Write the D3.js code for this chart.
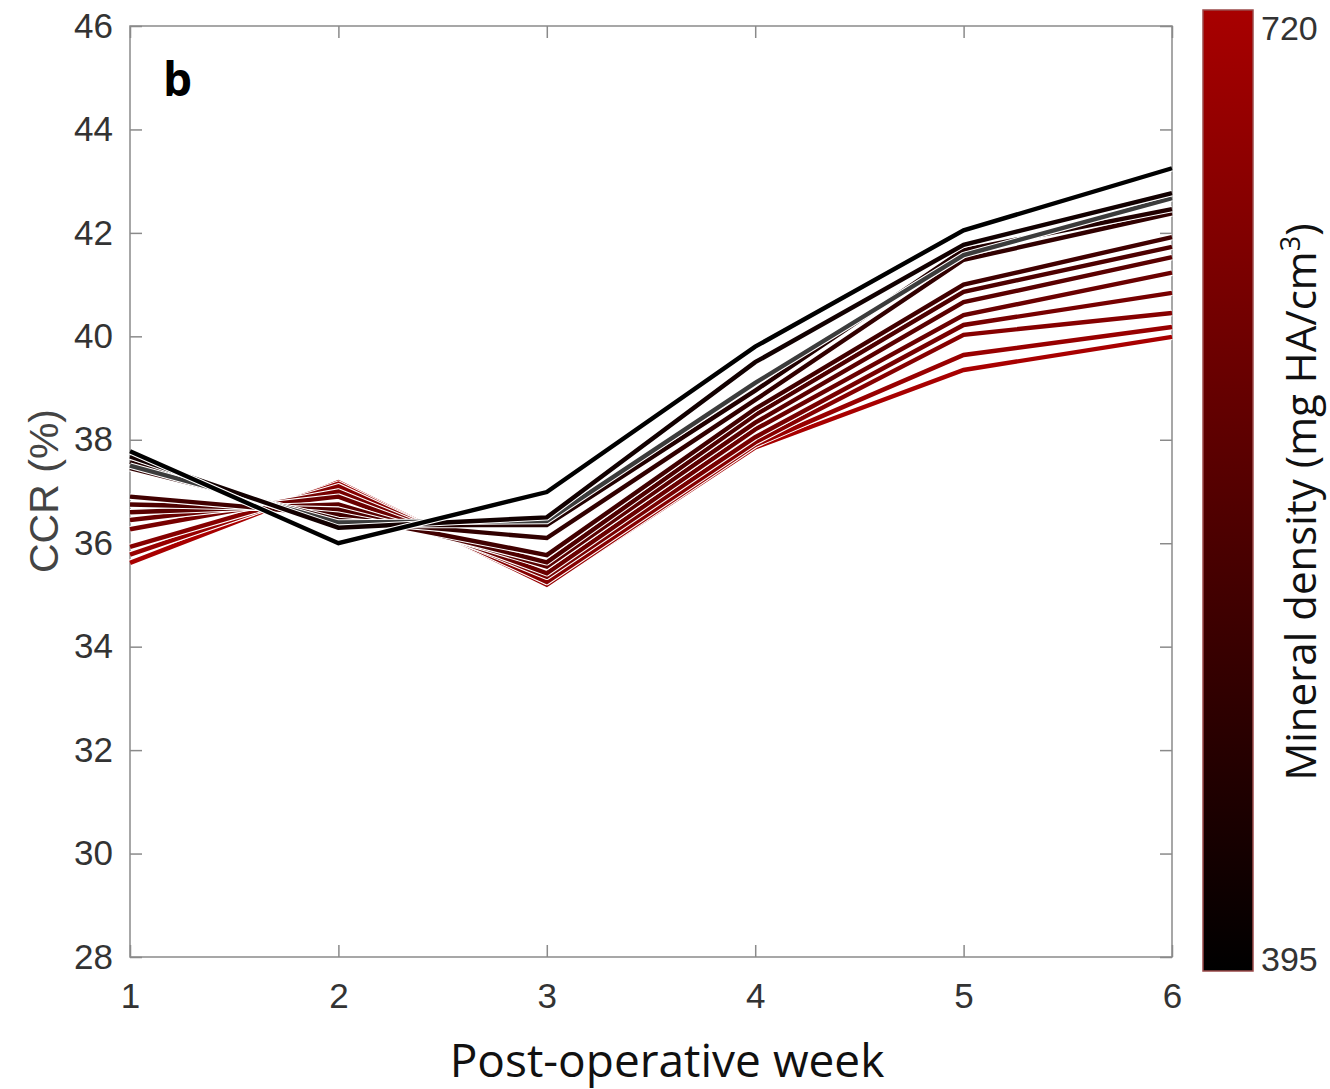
<!DOCTYPE html>
<html>
<head>
<meta charset="utf-8">
<script src="https://cdn.jsdelivr.net/npm/d3@7"></script>
<style>
  body { margin: 0; background: #fff; }
  svg { display: block; }
</style>
</head>
<body>
<svg id="chart" width="1330" height="1089"></svg>
<script>
// CCR per post-operative week, one line per mineral density bin

const weeks = [1, 2, 3, 4, 5, 6];
const yTicks = [28, 30, 32, 34, 36, 38, 40, 42, 44, 46];

// mineral density (mg HA/cm3) for each line, dark -> red
const densities = [395, 430, 460, 490, 520, 545, 570, 600, 625, 655, 690, 720];

const ccr = [
  [37.78, 36.0, 36.99, 39.8, 42.05, 43.25],
  [37.68, 36.3, 36.5, 39.5, 41.77, 42.77],
  [37.57, 36.35, 36.35, 38.95, 41.67, 42.46],
  [37.45, 36.45, 36.1, 38.77, 41.48, 42.38],
  [36.9, 36.55, 35.77, 38.6, 41.0, 41.92],
  [36.75, 36.65, 35.63, 38.48, 40.86, 41.73],
  [36.6, 36.75, 35.55, 38.33, 40.66, 41.53],
  [36.45, 36.9, 35.42, 38.2, 40.41, 41.23],
  [36.27, 37.0, 35.35, 38.05, 40.22, 40.84],
  [35.93, 37.1, 35.25, 37.95, 40.03, 40.45],
  [35.78, 37.15, 35.2, 37.9, 39.64, 40.18],
  [35.62, 37.18, 35.2, 37.85, 39.35, 39.99]
];

// grey line drawn among the dark ones
const greyLine = [37.5, 36.4, 36.43, 39.1, 41.57, 42.67];

const densityRange = [395, 720];

const svg = d3.select("#chart");
const mLeft = 130, mRight = 1172, mTop = 26, mBottom = 957;

const x = d3.scaleLinear().domain([1, 6]).range([mLeft, mRight]);
const y = d3.scaleLinear().domain([28, 46]).range([mBottom, mTop]);
const color = d3.scaleLinear().domain(densityRange).range(["#000000", "#a80000"]);

const line = d3.line().x((d, i) => x(weeks[i])).y(d => y(d));

const axisColor = "#8a8a8a";
const font = "'Liberation Sans', Arial, sans-serif";

// frame
svg.append("rect")
  .attr("x", mLeft).attr("y", mTop)
  .attr("width", mRight - mLeft).attr("height", mBottom - mTop)
  .attr("fill", "none").attr("stroke", axisColor).attr("stroke-width", 1.5);

// axes with inward ticks
const yAxisL = d3.axisLeft(y).tickValues(yTicks).tickSizeInner(-12).tickSizeOuter(0).tickPadding(17);
const yAxisR = d3.axisRight(y).tickValues(yTicks).tickSizeInner(-12).tickSizeOuter(0).tickFormat("");
const xAxisB = d3.axisBottom(x).tickValues(weeks).tickSizeInner(-12).tickSizeOuter(0).tickPadding(26).tickFormat(d3.format("d"));
const xAxisT = d3.axisTop(x).tickValues(weeks).tickSizeInner(-12).tickSizeOuter(0).tickFormat("");

function styleAxis(g) {
  g.select(".domain").remove();
  g.selectAll("line").attr("stroke", axisColor).attr("stroke-width", 1.5);
  g.selectAll("text").attr("fill", "#333").style("font-family", font).style("font-size", "35px");
}

svg.append("g").attr("transform", `translate(${mLeft},0)`).call(yAxisL).call(styleAxis);
svg.append("g").attr("transform", `translate(${mRight},0)`).call(yAxisR).call(styleAxis);
svg.append("g").attr("transform", `translate(0,${mBottom})`).call(xAxisB).call(styleAxis);
svg.append("g").attr("transform", `translate(0,${mTop})`).call(xAxisT).call(styleAxis);

// lines: white halo underneath, coloured line on top
const series = ccr.map((v, i) => ({ values: v, color: color(densities[i]) }));
series.splice(2, 0, { values: greyLine, color: "#3c3c3c" });

const plot = svg.append("g");
const order = series.slice().reverse();
order.forEach(s => {
  plot.append("path").datum(s.values).attr("d", line)
    .attr("fill", "none").attr("stroke", "#fff").attr("stroke-width", 6.5)
    .attr("stroke-linejoin", "round");
  plot.append("path").datum(s.values).attr("d", line)
    .attr("fill", "none").attr("stroke", s.color).attr("stroke-width", 4.4)
    .attr("stroke-linejoin", "miter");
});

// panel letter
svg.append("text").attr("x", 163).attr("y", 96)
  .style("font-family", "'Open Sans', sans-serif").style("font-weight", "bold").style("font-size", "46px")
  .text("b");

// axis titles
svg.append("text").attr("x", 667).attr("y", 1077)
  .attr("text-anchor", "middle").attr("fill", "#111")
  .style("font-family", "'Open Sans', sans-serif").style("font-size", "46px")
  .text("Post-operative week");

svg.append("text").attr("transform", "translate(58,491) rotate(-90)")
  .attr("text-anchor", "middle").attr("fill", "#444")
  .style("font-family", font).style("font-size", "41px")
  .text("CCR (%)");

// colorbar
const cbX = 1203, cbW = 50, cbTop = 10, cbBottom = 971;
const cbScale = d3.scaleLinear().domain(densityRange).range([cbBottom, cbTop]);
const defs = svg.append("defs");
const grad = defs.append("linearGradient").attr("id", "cb")
  .attr("x1", 0).attr("y1", 1).attr("x2", 0).attr("y2", 0);
grad.append("stop").attr("offset", "0%").attr("stop-color", color(densityRange[0]));
grad.append("stop").attr("offset", "100%").attr("stop-color", color(densityRange[1]));

svg.append("rect").attr("x", cbX).attr("y", cbTop).attr("width", cbW).attr("height", cbBottom - cbTop)
  .attr("fill", "url(#cb)").attr("stroke", "#9a4a4a").attr("stroke-width", 1.5);

svg.selectAll(".cbtick").data(densityRange).join("text")
  .attr("class", "cbtick")
  .attr("x", cbX + cbW + 8).attr("y", d => d === densityRange[0] ? cbScale(d) : cbScale(d) + 30)
  .attr("fill", "#333").style("font-family", font).style("font-size", "34px")
  .text(d => d);

const cbLabel = svg.append("text").attr("transform", "translate(1316,502) rotate(-90)")
  .attr("text-anchor", "middle").attr("fill", "#111")
  .style("font-family", "'Open Sans', sans-serif").style("font-size", "42px");
cbLabel.append("tspan").text("Mineral density (mg HA/cm");
cbLabel.append("tspan").attr("dy", -16).style("font-size", "27px").text("3");
cbLabel.append("tspan").attr("dy", 16).text(")");
</script>
</body>
</html>
